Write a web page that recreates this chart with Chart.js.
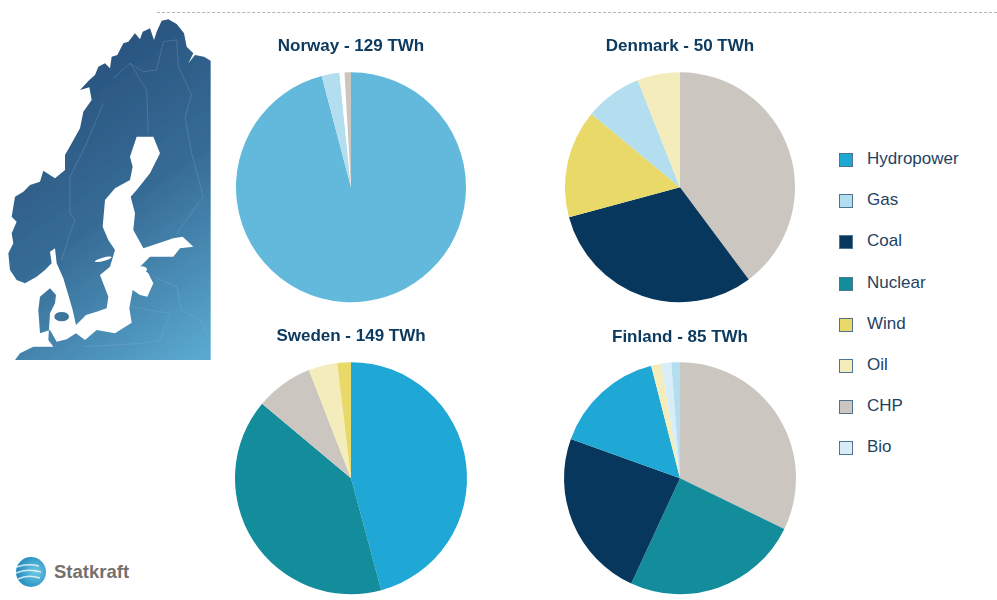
<!DOCTYPE html>
<html>
<head>
<meta charset="utf-8">
<script src="https://cdn.jsdelivr.net/npm/chart.js@4"></script>
<style>
  html, body { margin: 0; padding: 0; background: #fff; overflow: hidden; }
  body { width: 997px; height: 600px; position: relative; font-family: "Liberation Sans", Arial, sans-serif; }
  .pie { position: absolute; }
  #rule { position: absolute; left: 157px; right: 0; top: 12px; border-top: 1px dashed #b5b5b5; }
  #map { position: absolute; left: 0; top: 0; }
  #legend { position: absolute; left: 839px; top: 0; }
  .key { position: absolute; left: 0; width: 180px; height: 20px; }
  .swatch { position: absolute; left: 0; top: 3px; width: 12px; height: 12px; border: 1px solid #4f7390; }
  .name { position: absolute; left: 28px; top: 0; font-size: 17px; line-height: 18px; color: #1f4263; white-space: nowrap; }
  #logo { position: absolute; left: 15px; top: 556px; }
  #brand { position: absolute; left: 54px; top: 562px; font-size: 18.5px; line-height: 20px; font-weight: bold; color: #74716d; }
</style>
</head>
<body>
<div id="rule"></div>

<!-- backdrop map, rough outline only -->
<svg id="map" width="230" height="370" viewBox="0 0 690 1110">
  <defs>
    <linearGradient id="land" gradientUnits="userSpaceOnUse" x1="120" y1="300" x2="640" y2="1040">
      <stop offset="0" stop-color="#2a5580"/>
      <stop offset="0.45" stop-color="#366c96"/>
      <stop offset="1" stop-color="#5aa8cf"/>
    </linearGradient>
    <filter id="soft"><feGaussianBlur stdDeviation="1.2"/></filter>
  </defs>
  <g filter="url(#soft)">
    <path fill="url(#land)" d="M632 150 L632 182 L612 170 L585 165 L565 190 L580 160 L560 140 L552 100 L530 72 L505 58 L485 62 L470 95 L462 120 L450 85 L428 95 L420 118 L405 100 L385 125 L370 130 L352 165 L335 170 L330 205 L315 190 L295 200 L285 225 L268 240 L240 270 L268 262 L275 300 L250 335 L240 385 L215 430 L195 465 L195 510 L165 535 L130 512 L120 545 L90 555 L70 575 L45 590 L35 650 L50 665 L35 700 L40 730 L25 760 L30 810 L50 840 L75 850 L110 830 L135 810 L155 790 L150 755 L165 745 L170 790 L190 835 L205 885 L218 930 L228 975 L258 945 L290 935 L320 925 L325 890 L300 825 L330 800 L345 750 L325 720 L308 680 L315 600 L345 565 L390 540 L398 500 L390 470 L410 410 L460 410 L480 460 L450 520 L410 570 L392 590 L405 640 L400 690 L430 745 L480 728 L520 715 L548 710 L580 740 L540 745 L520 770 L450 770 L420 800 L445 820 L460 850 L442 890 L420 885 L398 870 L388 925 L395 968 L345 1000 L290 990 L255 1020 L228 1000 L200 1018 L170 1025 L150 990 L120 1000 L115 930 L120 890 L150 865 L168 885 L165 910 L150 940 L145 1020 L160 1040 L100 1040 L60 1060 L45 1080 L632 1080 Z"/>
    <g fill="#fff">
      <ellipse cx="425" cy="808" rx="16" ry="9"/>
      <ellipse cx="340" cy="870" rx="7" ry="30" transform="rotate(20 340 870)"/>
      <ellipse cx="310" cy="778" rx="26" ry="5" transform="rotate(-15 310 778)"/>
    </g>
    <ellipse cx="185" cy="950" rx="22" ry="14" fill="#3c749c"/>
  </g>
  <g fill="none" stroke="#8fb6cf" stroke-opacity="0.4" stroke-width="2">
    <path d="M340 235 L390 190 L430 215 L470 210 L490 125 L530 120 L535 200 L575 285 L555 350 L575 460 L610 590 L530 700"/>
    <path d="M390 190 L440 270 L445 400"/>
    <path d="M310 310 L255 440 L210 530 L210 640 L225 660 L210 700 L185 780"/>
    <path d="M460 830 L530 860 L545 930 L600 960 L632 1020"/>
    <path d="M390 920 L510 940 L480 1020 L430 1030 L250 1040"/>
  </g>
</svg>

<canvas id="norway" class="pie"></canvas>
<canvas id="denmark" class="pie"></canvas>
<canvas id="sweden" class="pie"></canvas>
<canvas id="finland" class="pie"></canvas>

<div id="legend"></div>

<svg id="logo" width="32" height="32" viewBox="0 0 32 32">
  <defs>
    <radialGradient id="globe" cx="0.65" cy="0.5" r="0.7">
      <stop offset="0" stop-color="#6fcbe6"/>
      <stop offset="1" stop-color="#1783b8"/>
    </radialGradient>
  </defs>
  <circle cx="16" cy="16" r="15" fill="url(#globe)"/>
  <g fill="none" stroke="#fff" stroke-opacity="0.75" stroke-width="1.6">
    <path d="M2 11 Q12 7 24 10"/>
    <path d="M1 17 Q12 12 26 16"/>
    <path d="M3 23 Q13 18 25 22"/>
  </g>
</svg>
<div id="brand">Statkraft</div>

<script>
const legendNames = ["Hydropower", "Gas", "Coal", "Nuclear", "Wind", "Oil", "CHP", "Bio"];
const legendColors = ["#1fa7d6", "#b3deef", "#07375c", "#138c9c", "#e9d968", "#f4edbb", "#cbc6bf", "#d8edf7"];

const norwayLabels = ["Hydropower", "Gas", "Bio", "CHP"];
const norwayValues = [95.9, 2.5, 0.7, 0.9];
const denmarkLabels = ["CHP", "Coal", "Wind", "Gas", "Oil"];
const denmarkValues = [39.8, 31, 15.2, 8, 6];
const swedenLabels = ["Hydropower", "Nuclear", "CHP", "Oil", "Wind"];
const swedenValues = [45.8, 40.3, 8, 4, 1.9];
const finlandLabels = ["CHP", "Nuclear", "Coal", "Hydropower", "Oil", "Bio", "Gas"];
const finlandValues = [32.2, 24.7, 23.6, 15.5, 1.4, 1.4, 1.2];

// Norway's slices are paler in the original
const norwayColors = ["#62b9dc", "#b3deef", "#ffffff", "#cbc6bf"];

function colorsFor(labels) {
  return labels.map(l => legendColors[legendNames.indexOf(l)]);
}

function drawPie(id, title, labels, values, colors, box) {
  const canvas = document.getElementById(id);
  canvas.style.left = box.left + "px";
  canvas.style.top = box.top + "px";
  canvas.style.width = box.width + "px";
  canvas.style.height = box.height + "px";
  canvas.width = box.width;
  canvas.height = box.height;

  new Chart(canvas, {
    type: "pie",
    data: {
      labels,
      datasets: [{ data: values, backgroundColor: colors, borderWidth: 0 }]
    },
    options: {
      responsive: false,
      animation: false,
      radius: box.radius,
      layout: { padding: 0 },
      plugins: {
        legend: { display: false },
        tooltip: { enabled: false },
        title: {
          display: true,
          text: title,
          color: "#0d3b60",
          font: { family: "'Liberation Sans', Arial, sans-serif", size: 17, weight: "bold" },
          padding: { top: box.titleTop, bottom: box.titleGap }
        }
      }
    }
  });
}

drawPie("norway", "Norway - 129 TWh", norwayLabels, norwayValues, norwayColors,
  { left: 221, top: 30, width: 260, height: 274, radius: 115, titleTop: 6, titleGap: 14 });
drawPie("denmark", "Denmark - 50 TWh", denmarkLabels, denmarkValues, colorsFor(denmarkLabels),
  { left: 550, top: 30, width: 260, height: 274, radius: 115, titleTop: 6, titleGap: 14 });
drawPie("sweden", "Sweden - 149 TWh", swedenLabels, swedenValues, colorsFor(swedenLabels),
  { left: 221, top: 320, width: 260, height: 276, radius: 116, titleTop: 6, titleGap: 14 });
drawPie("finland", "Finland - 85 TWh", finlandLabels, finlandValues, colorsFor(finlandLabels),
  { left: 550, top: 321, width: 260, height: 274, radius: 116, titleTop: 6, titleGap: 14 });

// legend sits apart from the pies, so it is built by hand
const legendTops = [150, 191, 232, 274, 315, 356, 397, 438];
const legendBox = document.getElementById("legend");
legendNames.forEach((name, i) => {
  const key = document.createElement("div");
  key.className = "key";
  key.style.top = legendTops[i] + "px";
  key.innerHTML = `<span class="swatch" style="background:${legendColors[i]}"></span><span class="name">${name}</span>`;
  legendBox.appendChild(key);
});
</script>
</body>
</html>
